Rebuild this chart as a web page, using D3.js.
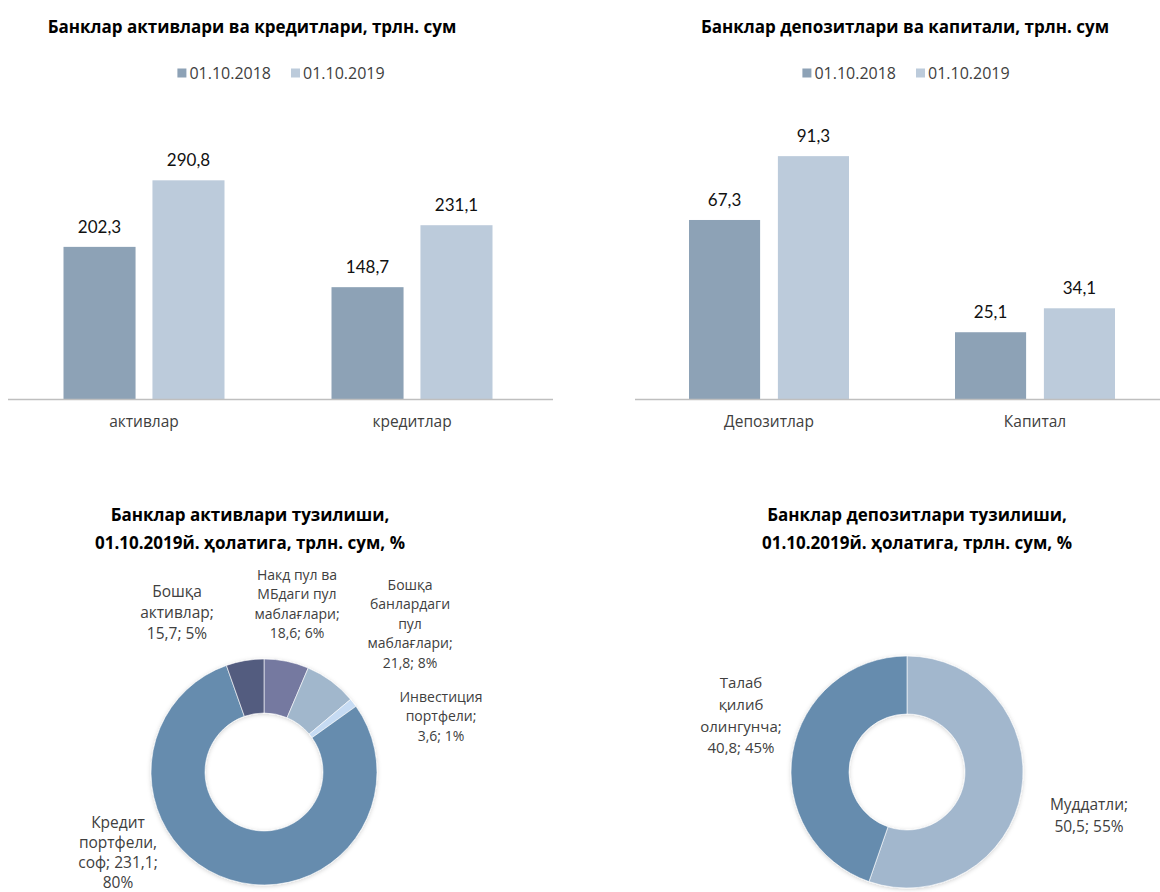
<!DOCTYPE html>
<html>
<head>
<meta charset="utf-8">
<script src="https://cdn.jsdelivr.net/npm/d3@7"></script>
<style>
  body { margin: 0; background: #fff; }
  text { font-family: "Open Sans", "Noto Sans", sans-serif; }
  .ttl { font-weight: bold; fill: #000; }
  .val { font-family: Lato, "Open Sans", sans-serif; fill: #111; }
  .lbl { fill: #404040; }
</style>
</head>
<body>
<div id="chart"></div>
<script>
// chart values
var series_names = ["01.10.2018", "01.10.2019"];

var assets_cats = ["активлар", "кредитлар"];
var assets_2018 = [202.3, 148.7];
var assets_2019 = [290.8, 231.1];

var deposits_cats = ["Депозитлар", "Капитал"];
var deposits_2018 = [67.3, 25.1];
var deposits_2019 = [91.3, 34.1];

// asset structure, clockwise from 12 o'clock
var struct_a_names = ["Накд пул ва МБдаги пул маблағлари", "Бошқа банлардаги пул маблағлари",
    "Инвестиция портфели", "Кредит портфели, соф", "Бошқа активлар"];
var struct_a_values = [18.6, 21.8, 3.6, 231.1, 15.7];
var struct_a_pct = [6, 8, 1, 80, 5];
// how excel wrapped each label ({v} value, {p} percent)
var struct_a_wrap = ["Накд пул ва|МБдаги пул|маблағлари;|{v}; {p}%",
    "Бошқа|банлардаги|пул|маблағлари;|{v}; {p}%",
    "Инвестиция|портфели;|{v}; {p}%",
    "Кредит|портфели,|соф; {v};|{p}%",
    "Бошқа|активлар;|{v}; {p}%"];

// deposit structure, clockwise from 12 o'clock
var struct_d_names = ["Муддатли", "Талаб қилиб олингунча"];
var struct_d_values = [50.5, 40.8];
var struct_d_pct = [55, 45];
var struct_d_wrap = ["Муддатли;|{v}; {p}%", "Талаб|қилиб|олингунча;|{v}; {p}%"];

// colours
var bar_colours = ["#8da2b6", "#bccbdb"];
var struct_a_colours = ["#7479a0", "#a1b7cc", "#c6dbf3", "#668cae", "#535b7f"];
var struct_d_colours = ["#a2b7cd", "#668cae"];

// label placement (layout only): x, first line y, font size, line step
var struct_a_lblpos = [[297, 575, 14, 19.5], [410, 585, 14, 19.5], [441, 697, 14, 19.5],
    [118, 823, 15.5, 20], [177, 592, 15.5, 21]];
var struct_d_lblpos = [[1089, 805, 15.5, 22], [741, 683, 15, 21.7]];

var fmt = function (v) { return String(v).replace(".", ","); };

var svg = d3.select("#chart")
    .append("svg")
    .attr("width", 1160)
    .attr("height", 892);

// soft shadow like the excel donut
var defs = svg.append("defs");
defs.append("filter")
    .attr("id", "shadow")
    .attr("x", "-10%").attr("y", "-10%").attr("width", "120%").attr("height", "120%")
    .append("feDropShadow")
    .attr("dx", 0).attr("dy", 1).attr("stdDeviation", 2)
    .attr("flood-color", "#000").attr("flood-opacity", 0.18);

function bar_chart(cfg) {
    var g = svg.append("g");

    // title
    g.append("text")
        .attr("class", "ttl")
        .attr("x", cfg.tx).attr("y", 27)
        .attr("dy", "0.35em")
        .attr("text-anchor", "middle")
        .style("font-size", "17px")
        .text(cfg.title);

    // legend
    var leg = g.append("g");
    var item = leg.selectAll("g")
        .data(series_names)
        .join("g");
    item.append("rect")
        .attr("width", 9).attr("height", 9)
        .attr("y", -4.5)
        .attr("fill", function (d, i) { return bar_colours[i]; });
    item.append("text")
        .attr("class", "lbl")
        .attr("x", 12)
        .attr("dy", "0.35em")
        .style("font-size", "16px")
        .text(function (d) { return d; });
    var off = 0;
    item.each(function () {
        d3.select(this).attr("transform", "translate(" + off + ",73)");
        off += this.getBBox().width + 20;
    });
    off -= 20;
    leg.attr("transform", "translate(" + (cfg.cx - off / 2) + ",0)");

    // scales
    var x0 = d3.scaleBand()
        .domain(cfg.cats)
        .range(cfg.band);
    var bw = x0.bandwidth();
    var x1 = d3.scaleBand()
        .domain([0, 1])
        .range([(bw - cfg.group) / 2, (bw + cfg.group) / 2])
        .paddingInner(cfg.gap);
    var y = d3.scaleLinear()
        .domain([0, cfg.max])
        .range([399, 399 - cfg.max * cfg.ppu]);

    var rows = cfg.cats.map(function (c, i) {
        return {cat: c, vals: [cfg.s1[i], cfg.s2[i]]};
    });

    var grp = g.selectAll(".grp")
        .data(rows)
        .join("g")
        .attr("class", "grp")
        .attr("transform", function (d) { return "translate(" + x0(d.cat) + ",0)"; });

    grp.selectAll("rect")
        .data(function (d) { return d.vals; })
        .join("rect")
        .attr("x", function (d, i) { return x1(i); })
        .attr("width", x1.bandwidth())
        .attr("y", function (d) { return y(d); })
        .attr("height", function (d) { return y(0) - y(d); })
        .attr("fill", function (d, i) { return bar_colours[i]; });

    grp.selectAll(".val")
        .data(function (d) { return d.vals; })
        .join("text")
        .attr("class", "val")
        .attr("x", function (d, i) { return x1(i) + x1.bandwidth() / 2; })
        .attr("y", function (d) { return y(d) - 20; })
        .attr("dy", "0.35em")
        .attr("text-anchor", "middle")
        .style("font-size", "17px")
        .text(function (d) { return fmt(d); });

    // x axis
    var ax = g.append("g")
        .attr("transform", "translate(0,399)")
        .call(d3.axisBottom(x0).tickSize(0).tickPadding(17));
    ax.select(".domain").remove();
    ax.selectAll("text")
        .attr("class", "lbl")
        .style("font-size", "15.5px")
        .style("font-family", "'Open Sans', sans-serif");
    g.append("line")
        .attr("x1", cfg.axis[0]).attr("x2", cfg.axis[1])
        .attr("y1", 399.5).attr("y2", 399.5)
        .attr("stroke", "#bfbfbf")
        .attr("stroke-width", 1.5);
}

bar_chart({title: "Банклар активлари ва кредитлари, трлн. сум", tx: 252, cx: 281,
    cats: assets_cats, s1: assets_2018, s2: assets_2019,
    band: [10, 546], group: 161, gap: 0.19, max: 300, ppu: 0.752, axis: [8, 553]});

bar_chart({title: "Банклар депозитлари ва капитали, трлн. сум", tx: 905, cx: 906,
    cats: deposits_cats, s1: deposits_2018, s2: deposits_2019,
    band: [636, 1168], group: 160, gap: 0.2, max: 100, ppu: 2.66, axis: [635, 1160]});

function donut_chart(cfg) {
    var g = svg.append("g");

    g.selectAll(".ttl")
        .data(cfg.title)
        .join("text")
        .attr("class", "ttl")
        .attr("x", cfg.tx)
        .attr("y", function (d, i) { return 515 + i * 28; })
        .attr("dy", "0.35em")
        .attr("text-anchor", "middle")
        .style("font-size", "17px")
        .text(function (d) { return d; });

    var pie = d3.pie().sort(null).value(function (d) { return d; });
    var arc = d3.arc().innerRadius(cfg.r).outerRadius(cfg.R);

    var ring = g.append("g")
        .attr("transform", "translate(" + cfg.cx + "," + cfg.cy + ")")
        .attr("filter", "url(#shadow)");
    ring.selectAll("path")
        .data(pie(cfg.values))
        .join("path")
        .attr("d", arc)
        .attr("fill", function (d, i) { return cfg.colours[i]; })
        .attr("stroke", "#fff")
        .attr("stroke-width", 0.6);

    // data labels
    cfg.wrap.forEach(function (w, i) {
        var p = cfg.lblpos[i];
        var lines = w.replace("{v}", fmt(cfg.values[i])).replace("{p}", cfg.pct[i]).split("|");
        g.append("text")
            .attr("class", "lbl")
            .attr("text-anchor", "middle")
            .style("font-size", p[2] + "px")
            .selectAll("tspan")
            .data(lines)
            .join("tspan")
            .attr("x", p[0])
            .attr("y", function (d, j) { return p[1] + j * p[3]; })
            .attr("dy", "0.35em")
            .text(function (d) { return d; });
    });
}

donut_chart({title: ["Банклар активлари тузилиши,", "01.10.2019й. ҳолатига, трлн. сум, %"],
    tx: 250, cx: 264, cy: 772, R: 113, r: 59,
    values: struct_a_values, pct: struct_a_pct, colours: struct_a_colours,
    wrap: struct_a_wrap, lblpos: struct_a_lblpos});

donut_chart({title: ["Банклар депозитлари тузилиши,", "01.10.2019й. ҳолатига, трлн. сум, %"],
    tx: 917, cx: 907, cy: 772, R: 116, r: 58,
    values: struct_d_values, pct: struct_d_pct, colours: struct_d_colours,
    wrap: struct_d_wrap, lblpos: struct_d_lblpos});
</script>
</body>
</html>
